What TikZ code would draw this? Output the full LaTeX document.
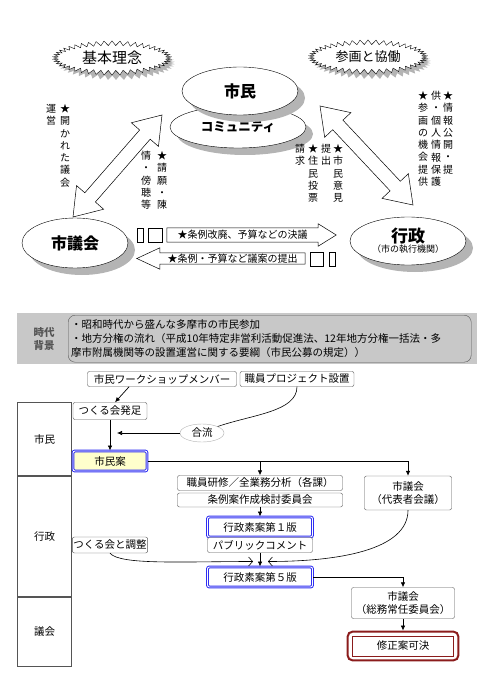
\documentclass[tikz,border=0pt]{standalone}
\usepackage{fontspec}
\setmainfont{Noto Sans CJK JP}
\usetikzlibrary{arrows.meta,calc,positioning,shapes.geometric,shapes.symbols,shadows}
\definecolor{inkgray}{HTML}{555555}
\definecolor{shadegray}{HTML}{B4B4B4}
\definecolor{bandgray}{HTML}{C8C8C8}
\definecolor{planblue}{HTML}{2E2EF2}
\definecolor{planfill}{HTML}{FFFFCC}
\definecolor{passred}{HTML}{8B1C1C}
\tikzset{
  burst/.style={starburst,starburst points=46,starburst point height=4.5pt,random starburst=0,
    draw,fill=white,minimum width=118pt,minimum height=34pt,inner sep=0pt,
    drop shadow={shadow xshift=4pt,shadow yshift=-5pt,fill=shadegray,opacity=1}},
  layer/.style={ellipse,draw,fill=white,inner sep=0pt,
    drop shadow={shadow xshift=7pt,shadow yshift=-7pt,fill=shadegray,opacity=1}},
  vcol/.style={align=center,inner sep=0pt,anchor=north,font=\fontsize{10}{12.3}\selectfont},
  blk/.style={draw,line width=0.5pt},
  stub/.style={draw,inner sep=0pt},
  lane/.style={draw=inkgray,line width=1pt,minimum width=54pt,inner sep=0pt,font=\fontsize{10.5}{12}\selectfont},
  box/.style={draw=inkgray,rounded corners=2pt,fill=white,inner sep=1pt,align=center,font=\fontsize{10.5}{12.5}\selectfont},
  plan/.style={box,draw=planblue,double=white,double distance=0.9pt,line width=1pt},
  flow/.style={-{Latex[length=5pt,width=4.5pt]},line width=0.7pt},
  merge/.style={-{Straight Barb[length=4pt,width=9pt]},line width=0.6pt}
}
% hollow arrow with a head at both ends
\newcommand\twinarrow[2]{%
  \draw[blk,fill=white] (#1) -- ($(#1)!26pt!(#2)!18pt!90:(#2)$) -- ($(#1)!26pt!(#2)!7pt!90:(#2)$)
    -- ($(#2)!26pt!(#1)!7pt!-90:(#1)$) -- ($(#2)!26pt!(#1)!18pt!-90:(#1)$) -- (#2)
    -- ($(#2)!26pt!(#1)!18pt!90:(#1)$) -- ($(#2)!26pt!(#1)!7pt!90:(#1)$)
    -- ($(#1)!26pt!(#2)!7pt!-90:(#2)$) -- ($(#1)!26pt!(#2)!18pt!-90:(#2)$) -- cycle;}

\begin{document}
\begin{tikzpicture}[x=1pt,y=-1pt]
\useasboundingbox (0,0) rectangle (500,684);
% --- upper figure
\node[burst,font=\fontsize{15}{16}\selectfont] (rinen) at (112,58) {基本理念};
\node[burst,font=\fontsize{13}{14}\selectfont] (kyodo) at (368,57) {参画と協働};
\node[layer,minimum width=136pt,minimum height=42pt,font=\bfseries\fontsize{12.5}{13}\selectfont] (comm) at (238,127) {コミュニティ};
\node[layer,minimum width=116pt,minimum height=48pt,font=\bfseries\fontsize{16}{17}\selectfont] (shimin) at (240,91) {市民};
\node[layer,minimum width=106pt,minimum height=50pt,font=\bfseries\fontsize{16}{17}\selectfont] (gikai) at (75,243) {市議会};
\node[layer,minimum width=116pt,minimum height=48pt,align=center] (gyosei) at (408,241)
  {{\bfseries\fontsize{17}{18}\selectfont 行政}\\[-2pt]{\fontsize{9}{10}\selectfont （市の執行機関）}};
\coordinate (gL) at (73,217);
\coordinate (sL) at (162,115);
\coordinate (sR) at (320,106);
\coordinate (gR) at (413,205);
\twinarrow{gL}{sL}
\twinarrow{sR}{gR}
\node[inner sep=0pt,minimum width=151pt,minimum height=14pt,font=\fontsize{10}{11}\selectfont] (ketsugi) at (242.5,235) {★条例改廃、予算などの決議};
\draw[blk] (ketsugi.north west) -- (ketsugi.north east) -- ++(0,-4) -- ($(ketsugi.east)+(18,0)$)
  -- ($(ketsugi.south east)+(0,4)$) -- (ketsugi.south east) -- (ketsugi.south west) -- cycle;
\node[stub,minimum width=6pt,minimum height=14pt] (k1) at (140,235) {};
\node[stub,minimum width=14pt,minimum height=14pt] (k2) at (155,235) {};
\node[inner sep=0pt,minimum width=145pt,minimum height=11pt,font=\fontsize{10}{11}\selectfont] (teian) at (232.5,258.5) {★条例・予算など議案の提出};
\draw[blk] (teian.north east) -- (teian.north west) -- ++(0,-5) -- ($(teian.west)+(-23,0)$)
  -- ($(teian.south west)+(0,5)$) -- (teian.south west) -- (teian.south east) -- cycle;
\node[stub,minimum width=13pt,minimum height=14pt] (t1) at (316.5,259) {};
\node[stub,minimum width=6pt,minimum height=14pt] (t2) at (332,259) {};
% vertical notes
\node[vcol] (kaikare) at (65,104) {★\\開\\か\\れ\\た\\議\\会};
\node[vcol] (unei) at (51,104) {運\\営};
\node[vcol] (seigan) at (162,151) {★\\請\\願\\・\\陳};
\node[vcol] (bocho) at (146,151) {情\\・\\傍\\聴\\等};
\node[vcol] (iken) at (338,144) {★\\市\\民\\意\\見};
\node[vcol] (teishutsu) at (326,144) {提\\出};
\node[vcol] (tohyo) at (313,144) {★\\住\\民\\投\\票};
\node[vcol] (seikyu) at (300,144) {請\\求};
\node[vcol] (kokai) at (448,91) {★\\情\\報\\公\\開\\・\\提};
\node[vcol] (hogo) at (436,91) {供\\・\\個\\人\\情\\報\\保\\護};
\node[vcol] (kikai) at (423,91) {★\\参\\画\\の\\機\\会\\提\\供};
% --- lower figure
\fill[bandgray] (17,313) rectangle (477,364);
\node[font=\bfseries\fontsize{10.5}{13}\selectfont,text=inkgray,align=center] (jidai) at (44,339) {時代\\背景};
\node[draw=inkgray,rounded corners=7pt,fill=bandgray,anchor=north west,minimum width=403pt,minimum height=47pt,
  text width=397pt,inner xsep=2pt,align=left,font=\fontsize{10.5}{14}\selectfont] (haikei) at (68,315)
  {・昭和時代から盛んな多摩市の市民参加\\・地方分権の流れ（平成10年特定非営利活動促進法、12年地方分権一括法・多\\摩市附属機関等の設置運営に関する要綱（市民公募の規定））};
\node[lane,minimum height=73pt,anchor=north west] (lshimin) at (17,402) {市民};
\node[lane,minimum height=120pt,below=0pt of lshimin] (lgyosei) {行政};
\node[lane,minimum height=69pt,below=0pt of lgyosei] (lgikai) {議会};
\node[box,minimum width=149pt,minimum height=15pt] (ws) at (162,379) {市民ワークショップメンバー};
\node[box,minimum width=114pt,minimum height=15pt] (proj) at (297,379) {職員プロジェクト設置};
\node[box,minimum width=74pt,minimum height=17pt] (hossoku) at (110,411) {つくる会発足};
\node[ellipse,draw=gray!60,fill=white,minimum width=44pt,minimum height=18pt,inner sep=0pt,font=\fontsize{10.5}{12}\selectfont] (goryu) at (202,433) {合流};
\node[plan,fill=planfill,minimum width=74pt,minimum height=20pt] (shiminan) at (110,461) {市民案};
\node[box,minimum width=165pt,minimum height=15pt] (kenshu) at (260,483) {職員研修／全業務分析（各課）};
\node[box,minimum width=165pt,minimum height=14pt] (kento) at (260,500) {条例案作成検討委員会};
\node[plan,minimum width=105pt,minimum height=20pt] (soan1) at (260,527) {行政素案第１版};
\node[box,minimum width=105pt,minimum height=15pt] (pubcom) at (260,545) {パブリックコメント};
\node[plan,minimum width=105pt,minimum height=20pt] (soan5) at (260,577) {行政素案第５版};
\node[box,minimum width=87pt,minimum height=34pt] (daihyo) at (408,493) {市議会\\（代表者会議）};
\node[box,minimum width=74pt,minimum height=16pt] (chosei) at (110,545) {つくる会と調整};
\node[box,minimum width=103pt,minimum height=31pt] (somu) at (403,603) {市議会\\（総務常任委員会）};
\node[draw=passred,line width=0.8pt,fill=white,minimum width=101pt,minimum height=20pt,font=\fontsize{10.5}{12}\selectfont] (kaketsu) at (403,646) {修正案可決};
\draw[passred,line width=2pt,rounded corners=5pt] ($(kaketsu.north west)+(-4.5,-4)$) rectangle ($(kaketsu.south east)+(4.5,4)$);
% connectors
\draw[flow] ($(ws.south west)!0.28!(ws.south east)$) -- ($(hossoku.north)+(5,0)$);
\draw[line width=0.6pt] (proj.south) .. controls +(0,25) and +(35,-12) .. (goryu.north east);
\draw[flow] (goryu.west) -- ($(goryu.west -| hossoku.south)+(7,0)$);
\draw[flow] (hossoku.south) -- (shiminan.north);
\draw[flow] (shiminan.east) -| (kenshu.north);
\draw[flow] (shiminan.east) -| (daihyo.north);
\draw[flow] (kento.south) -- (soan1.north);
\draw[flow] (pubcom.south) -- (soan5.north);
\coordinate (mergeL) at ($(soan5.north)+(-7,-5)$);
\coordinate (mergeR) at ($(soan5.north)+(8,-5)$);
\draw[merge] (chosei.south) .. controls +(10,12) and +(-70,0) .. (mergeL);
\draw[merge] (daihyo.south) .. controls +(0,40) and +(70,0) .. (mergeR);
\draw[flow] (soan5.east) -| (somu.north);
\draw[flow] (somu.south) -- ($(kaketsu.north)+(0,-5)$);
\end{tikzpicture}
\end{document}
